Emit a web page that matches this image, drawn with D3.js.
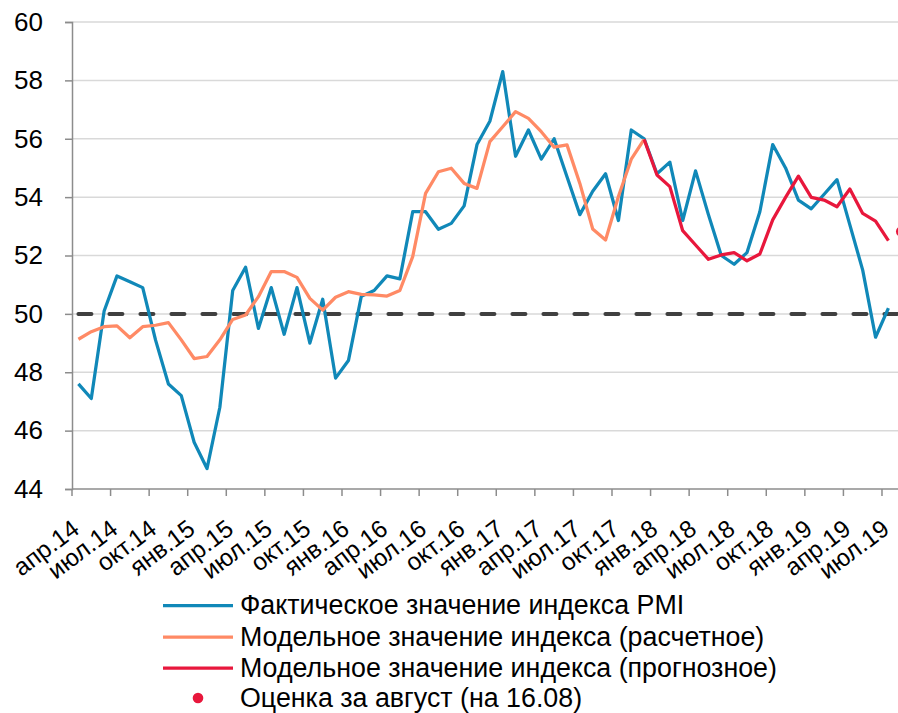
<!DOCTYPE html>
<html>
<head>
<meta charset="utf-8">
<script src="https://cdn.jsdelivr.net/npm/d3@7"></script>
<style>
  html, body { margin: 0; padding: 0; background: #fff; }
  svg { display: block; font-family: "Liberation Sans", Arial, sans-serif; }
</style>
</head>
<body>
<svg id="chart" width="898" height="713"></svg>
<script>
// ---- data ----
const monthNames = ["янв","фев","мар","апр","май","июн","июл","авг","сен","окт","ноя","дек"];
const categories = [];
for (let yr = 2014, m = 3; !(yr === 2019 && m === 8); ) {
  categories.push(monthNames[m] + "." + String(yr).slice(2));
  m++; if (m === 12) { m = 0; yr++; }
}
// apr.14 .. aug.19 -> 65 months

const actualPMI = [
  47.6, 47.1, 50.1, 51.3, 51.1, 50.9, 49.1, 47.6, 47.2, 45.6,
  44.7, 46.8, 50.8, 51.6, 49.5, 50.9, 49.3, 50.9, 49.0, 50.5,
  47.8, 48.4, 50.6, 50.8, 51.3, 51.2, 53.5, 53.5, 52.9, 53.1,
  53.7, 55.8, 56.6, 58.3, 55.4, 56.3, 55.3, 56.0, 54.7, 53.4,
  54.2, 54.8, 53.2, 56.3, 56.0, 54.8, 55.2, 53.2, 54.9, 53.4,
  52.0, 51.7, 52.1, 53.5, 55.8, 55.0, 53.9, 53.6, 54.1, 54.6,
  53.05, 51.5, 49.2, 50.2, null
];
const modelCalc = [
  49.13, 49.39, 49.56, 49.59, 49.18, 49.56, 49.61, 49.70, 49.11, 48.47,
  48.54, 49.11, 49.81, 49.96, 50.59, 51.45, 51.45, 51.25, 50.53, 50.13,
  50.57, 50.76, 50.67, 50.65, 50.61, 50.80, 51.96, 54.13, 54.87, 54.99,
  54.47, 54.30, 55.90, 56.41, 56.93, 56.70, 56.24, 55.71, 55.79, 54.47,
  52.91, 52.53, 54.02, 55.30, 55.98
];
const modelForecastStart = 44; // dec.17
const modelForecast = [
  55.98, 54.76, 54.36, 52.85, 52.36, 51.87, 52.02, 52.10, 51.82, 52.05,
  53.22, 53.99, 54.72, 53.99, 53.90, 53.67, 54.28, 53.44, 53.18, 52.51
];
const augEstimate = { month: "авг.19", value: 52.82 };
const threshold = 50;
const yTicks = [44, 46, 48, 50, 52, 54, 56, 58, 60];
const legendLabels = [
  "Фактическое значение индекса PMI",
  "Модельное значение индекса (расчетное)",
  "Модельное значение индекса (прогнозное)",
  "Оценка за август (на 16.08)"
];

// ---- styles ----
const C_BLUE = "#1088b8", C_ORANGE = "#ff8a65", C_RED = "#e8173c";
const C_AXIS = "#8c8c8c", C_GRID = "#d9d9d9", C_DASH = "#404040";

const svg = d3.select("#chart");
const plotLeft = 72, plotTop = 22, plotBottom = 489;
const step = 12.857;

const x = d3.scaleBand().domain(categories).range([plotLeft, plotLeft + step * categories.length]).padding(0);
const cx = c => x(c) + x.bandwidth() / 2;
const y = d3.scaleLinear().domain([44, 60]).range([plotBottom, plotTop]);
const plotRight = x.range()[1];

// gridlines
svg.append("g").selectAll("line").data(yTicks.filter(t => t !== 44)).join("line")
  .attr("x1", plotLeft).attr("x2", plotRight)
  .attr("y1", d => y(d)).attr("y2", d => y(d))
  .attr("stroke", C_GRID).attr("stroke-width", 1.5);

// y axis
const yAxis = svg.append("g").attr("transform", `translate(${plotLeft},0)`)
  .call(d3.axisLeft(y).tickValues(yTicks).tickSize(7).tickPadding(22).tickFormat(d3.format("d")));
yAxis.select(".domain").attr("stroke", C_AXIS).attr("stroke-width", 1.5);
yAxis.selectAll(".tick line").attr("stroke", C_AXIS).attr("stroke-width", 1.5);
yAxis.selectAll(".tick text").attr("font-size", 26).attr("fill", "#000")
  .attr("font-family", "'Liberation Sans', Arial, sans-serif");

// x axis line + ticks between categories every 3 months
svg.append("line").attr("x1", plotLeft).attr("x2", plotRight).attr("y1", plotBottom).attr("y2", plotBottom)
  .attr("stroke", C_AXIS).attr("stroke-width", 1.5);
const tickCats = categories.filter((c, i) => i % 3 === 0 && i < 64);
svg.append("g").selectAll("line").data(tickCats).join("line")
  .attr("x1", d => x(d)).attr("x2", d => x(d))
  .attr("y1", plotBottom).attr("y2", plotBottom + 7)
  .attr("stroke", C_AXIS).attr("stroke-width", 1.5);
svg.append("g").selectAll("text").data(tickCats).join("text")
  .attr("transform", d => `translate(${cx(d) + 2.5},${plotBottom + 43}) rotate(-37)`)
  .attr("text-anchor", "end")
  .attr("font-size", 24.5)
  .attr("fill", "#000")
  .text(d => d);

// threshold dashed line
svg.append("line")
  .attr("x1", cx(categories[0])).attr("x2", cx(categories[categories.length - 1]))
  .attr("y1", y(threshold)).attr("y2", y(threshold))
  .attr("stroke", C_DASH).attr("stroke-width", 4)
  .attr("stroke-dasharray", "13,18").attr("stroke-linecap", "round");

const line = d3.line().defined(d => d.v != null).x(d => cx(d.c)).y(d => y(d.v));

const actualPts = categories.map((c, i) => ({ c, v: actualPMI[i] }));
const calcPts = modelCalc.map((v, i) => ({ c: categories[i], v }));
const fcPts = modelForecast.map((v, i) => ({ c: categories[modelForecastStart + i], v }));

svg.append("path").datum(actualPts).attr("d", line)
  .attr("fill", "none").attr("stroke", C_BLUE).attr("stroke-width", 3.25).attr("stroke-linejoin", "round");
svg.append("path").datum(calcPts).attr("d", line)
  .attr("fill", "none").attr("stroke", C_ORANGE).attr("stroke-width", 3.25).attr("stroke-linejoin", "round");
svg.append("path").datum(fcPts).attr("d", line)
  .attr("fill", "none").attr("stroke", C_RED).attr("stroke-width", 3.25).attr("stroke-linejoin", "round");
svg.append("circle").attr("cx", cx(augEstimate.month)).attr("cy", y(augEstimate.value))
  .attr("r", 5.3).attr("fill", C_RED);

// legend
const legendColors = [C_BLUE, C_ORANGE, C_RED, C_RED];
const legendY = [605.5, 637, 668, 698];
const lg = svg.append("g");
legendLabels.forEach((lab, i) => {
  if (i < 3) {
    lg.append("line").attr("x1", 163).attr("x2", 233).attr("y1", legendY[i]).attr("y2", legendY[i])
      .attr("stroke", legendColors[i]).attr("stroke-width", 3.25);
  } else {
    lg.append("circle").attr("cx", 198).attr("cy", legendY[i]).attr("r", 5.3).attr("fill", legendColors[i]);
  }
  lg.append("text").attr("x", 240).attr("y", legendY[i]).attr("dy", "0.33em")
    .attr("font-size", 26.8).attr("fill", "#000").text(lab);
});
</script>
</body>
</html>
